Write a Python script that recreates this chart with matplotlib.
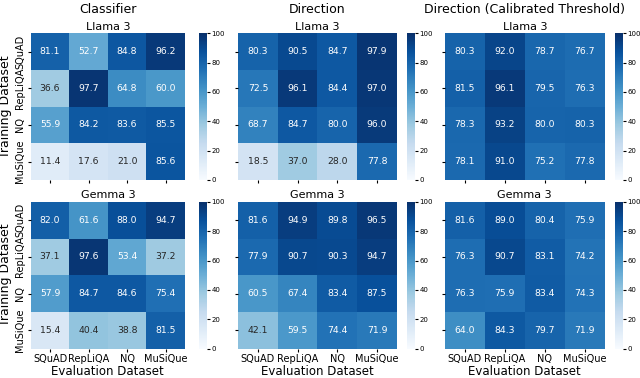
import matplotlib
matplotlib.use("Agg")
import matplotlib.pyplot as plt
import numpy as np
import seaborn as sns

datasets = ["SQuAD", "RepLiQA", "NQ", "MuSiQue"]
methods = ["Classifier", "Direction", "Direction (Calibrated Threshold)"]
models = ["Llama 3", "Gemma 3"]

# rows = training dataset, cols = evaluation dataset
llama_classifier = [[81.1, 52.7, 84.8, 96.2],
                    [36.6, 97.7, 64.8, 60.0],
                    [55.9, 84.2, 83.6, 85.5],
                    [11.4, 17.6, 21.0, 85.6]]
llama_direction = [[80.3, 90.5, 84.7, 97.9],
                   [72.5, 96.1, 84.4, 97.0],
                   [68.7, 84.7, 80.0, 96.0],
                   [18.5, 37.0, 28.0, 77.8]]
llama_calibrated = [[80.3, 92.0, 78.7, 76.7],
                    [81.5, 96.1, 79.5, 76.3],
                    [78.3, 93.2, 80.0, 80.3],
                    [78.1, 91.0, 75.2, 77.8]]
gemma_classifier = [[82.0, 61.6, 88.0, 94.7],
                    [37.1, 97.6, 53.4, 37.2],
                    [57.9, 84.7, 84.6, 75.4],
                    [15.4, 40.4, 38.8, 81.5]]
gemma_direction = [[81.6, 94.9, 89.8, 96.5],
                   [77.9, 90.7, 90.3, 94.7],
                   [60.5, 67.4, 83.4, 87.5],
                   [42.1, 59.5, 74.4, 71.9]]
gemma_calibrated = [[81.6, 89.0, 80.4, 75.9],
                    [76.3, 90.7, 83.1, 74.2],
                    [76.3, 75.9, 83.4, 74.3],
                    [64.0, 84.3, 79.7, 71.9]]

grid = [[llama_classifier, llama_direction, llama_calibrated],
        [gemma_classifier, gemma_direction, gemma_calibrated]]

fig = plt.figure(figsize=(6.4, 3.78), dpi=100)

# axes positions (figure fraction)
col_left = [0.048, 0.372, 0.695]
col_width = [0.241, 0.248, 0.250]
cbar_left = [0.311, 0.636, 0.961]
row_bottom = [0.524, 0.078]
row_height = 0.388

for r in range(2):
    for c in range(3):
        ax = fig.add_axes([col_left[c], row_bottom[r], col_width[c], row_height])
        cax = fig.add_axes([cbar_left[c], row_bottom[r], 0.0125, row_height])
        sns.heatmap(np.array(grid[r][c]), ax=ax, cbar_ax=cax, cmap="Blues",
                    vmin=0, vmax=100, annot=True, fmt=".1f",
                    annot_kws={"size": 6.7},
                    xticklabels=datasets, yticklabels=datasets)
        cax.tick_params(labelsize=5, length=2, pad=1)
        cax.set_yticks([0, 20, 40, 60, 80, 100])
        ax.set_title(models[r], fontsize=8, pad=2.5)
        ax.tick_params(labelsize=7, length=2.5, pad=1.5)
        if c == 0:
            ax.set_yticklabels(datasets, rotation=90, va="center")
            ax.set_ylabel("Training Dataset", fontsize=9, labelpad=2)
        else:
            ax.set_yticklabels([])
        if r == 1:
            ax.set_xticklabels(datasets, rotation=0)
            ax.set_xlabel("Evaluation Dataset", fontsize=8.5, labelpad=0.5)
        else:
            ax.set_xticklabels([])
        if r == 0:
            fig.text(col_left[c] + col_width[c] / 2, 0.974, methods[c],
                     ha="center", va="center", fontsize=9)

fig.savefig("out.png", dpi=100)
